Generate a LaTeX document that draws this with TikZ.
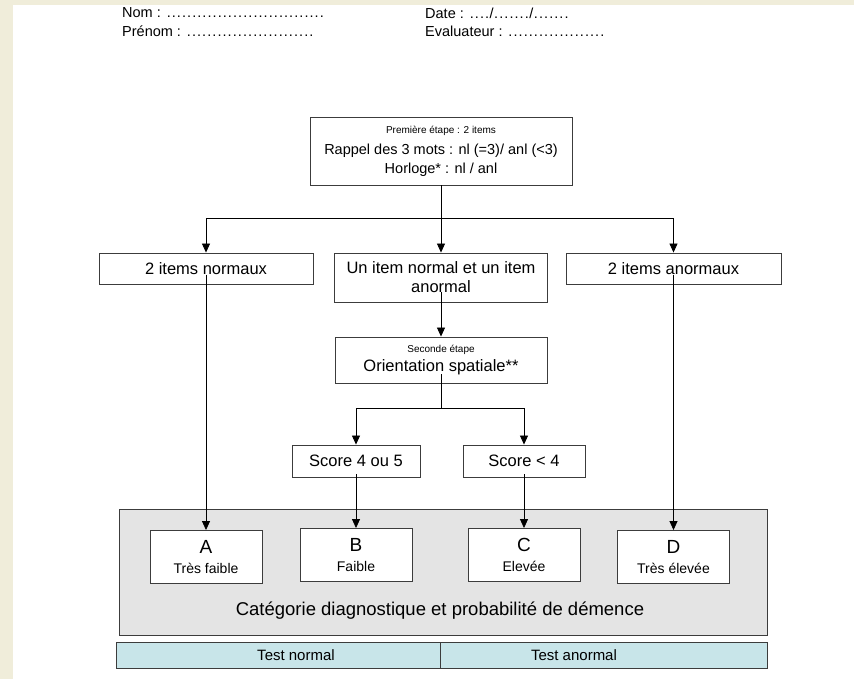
\documentclass[tikz,border=0pt]{standalone}
\usepackage{fontspec}
\setmainfont{Liberation Sans}
\usetikzlibrary{arrows.meta,positioning}
\definecolor{pagecream}{RGB}{240,237,218}
\definecolor{panelgrey}{RGB}{228,228,228}
\definecolor{barteal}{RGB}{200,229,233}
\definecolor{edgegrey}{RGB}{60,60,60}
% dotted fill-in field
\newcommand{\pointilles}[1]{\foreach \d in {1,...,#1}{\hbox to 5.1pt{\hss.\hss}}}

\begin{document}
\begin{tikzpicture}[x=1pt, y=-1pt,
    box/.style={rectangle, draw=edgegrey, fill=white, line width=0.9pt, inner sep=1pt, align=center, font=\fontsize{16.5}{18}\selectfont},
    classbox/.style={box, minimum width=112, minimum height=53},
    header/.style={anchor=west, inner sep=0pt, font=\fontsize{14.5}{16}\selectfont},
    arrow/.style={-{Triangle[length=9pt,width=8pt]}, line width=0.8pt},
    link/.style={line width=0.8pt}
]
    % page
    \fill[pagecream] (0,0) rectangle (854,679);
    \fill[white] (13,5) rectangle (854,679);
    \useasboundingbox (0,0) rectangle (854,679);

    % header fields
    \node[header] (nom) at (122,13) {Nom : \pointilles{31}};
    \node[header] (prenom) at (122,31) {Prénom : \pointilles{25}};
    \node[header] (date) at (425,13) {Date : \pointilles{4}/\pointilles{7}/\pointilles{7}};
    \node[header] (evaluateur) at (425,31) {Evaluateur : \pointilles{19}};

    % first step
    \node[box, minimum width=262, minimum height=68, font=\fontsize{14.5}{19}\selectfont] (premiere) at (441,151)
        {{\fontsize{10}{12}\selectfont Première étape : 2 items}\\[2pt]
         Rappel des 3 mots : nl (=3)/ anl (<3)\\Horloge* : nl / anl};
    \node[box, minimum width=214, minimum height=31] (normaux) at (206,268.5) {2 items normaux};
    \node[box, minimum width=213, minimum height=49, font=\fontsize{16.5}{19}\selectfont] (mixte) at (441,277.5) {Un item normal et un item\\anormal};
    \node[box, minimum width=215, minimum height=31] (anormaux) at (673.5,268.5) {2 items anormaux};

    % second step
    \node[box, minimum width=212, minimum height=46] (seconde) at (441,360)
        {{\fontsize{10}{12}\selectfont Seconde étape}\\[1pt]Orientation spatiale**};
    \node[box, minimum width=128, minimum height=32] (score45) at (356,461) {Score 4 ou 5};
    \node[box, minimum width=122, minimum height=32] (score4) at (524,461) {Score < 4};

    % categories
    \node[rectangle, draw=edgegrey, fill=panelgrey, line width=0.9pt, minimum width=648, minimum height=126] (panel) at (443,572) {};
    \node[classbox] (classA) at (206,557) {{\fontsize{19}{20}\selectfont A}\\[2pt]{\fontsize{14}{15}\selectfont Très faible}};
    \node[classbox] (classB) at (356,555) {{\fontsize{19}{20}\selectfont B}\\[2pt]{\fontsize{14}{15}\selectfont Faible}};
    \node[classbox] (classC) at (524,555) {{\fontsize{19}{20}\selectfont C}\\[2pt]{\fontsize{14}{15}\selectfont Elevée}};
    \node[classbox] (classD) at (673.5,557) {{\fontsize{19}{20}\selectfont D}\\[2pt]{\fontsize{14}{15}\selectfont Très élevée}};
    \node[font=\fontsize{18.5}{20}\selectfont] (caption) at (440,611) {Catégorie diagnostique et probabilité de démence};

    % result bar
    \node[rectangle, draw=edgegrey, fill=barteal, line width=0.9pt, minimum width=324, minimum height=26] (normalcell) at (278,655) {};
    \node[rectangle, draw=edgegrey, fill=barteal, line width=0.9pt, minimum width=327, minimum height=26] (anormalcell) at (603.5,655) {};
    \node[font=\fontsize{15}{16}\selectfont] (normaltext) at (296,655) {Test normal};
    \node[font=\fontsize{15}{16}\selectfont] (anormaltext) at (574,655) {Test anormal};

    % connectors
    \coordinate (fork1) at (441,218);
    \coordinate (fork2) at (441,408);
    \draw[link] (premiere) -- (fork1);
    \draw[arrow] (fork1) -| (normaux);
    \draw[arrow] (fork1) -- (mixte);
    \draw[arrow] (fork1) -| (anormaux);
    \draw[arrow] ([yshift=-6pt]normaux.center) -- (classA);
    \draw[arrow] ([yshift=-6pt]anormaux.center) -- (classD);
    \draw[arrow] ([yshift=10pt]mixte.south) -- (seconde);
    \draw[link] ([yshift=9pt]seconde.south) -- (fork2);
    \draw[arrow] (fork2) -| (score45);
    \draw[arrow] (fork2) -| (score4);
    \draw[arrow] ([yshift=3pt]score45.south) -- (classB);
    \draw[arrow] ([yshift=3pt]score4.south) -- (classC);
\end{tikzpicture}
\end{document}
